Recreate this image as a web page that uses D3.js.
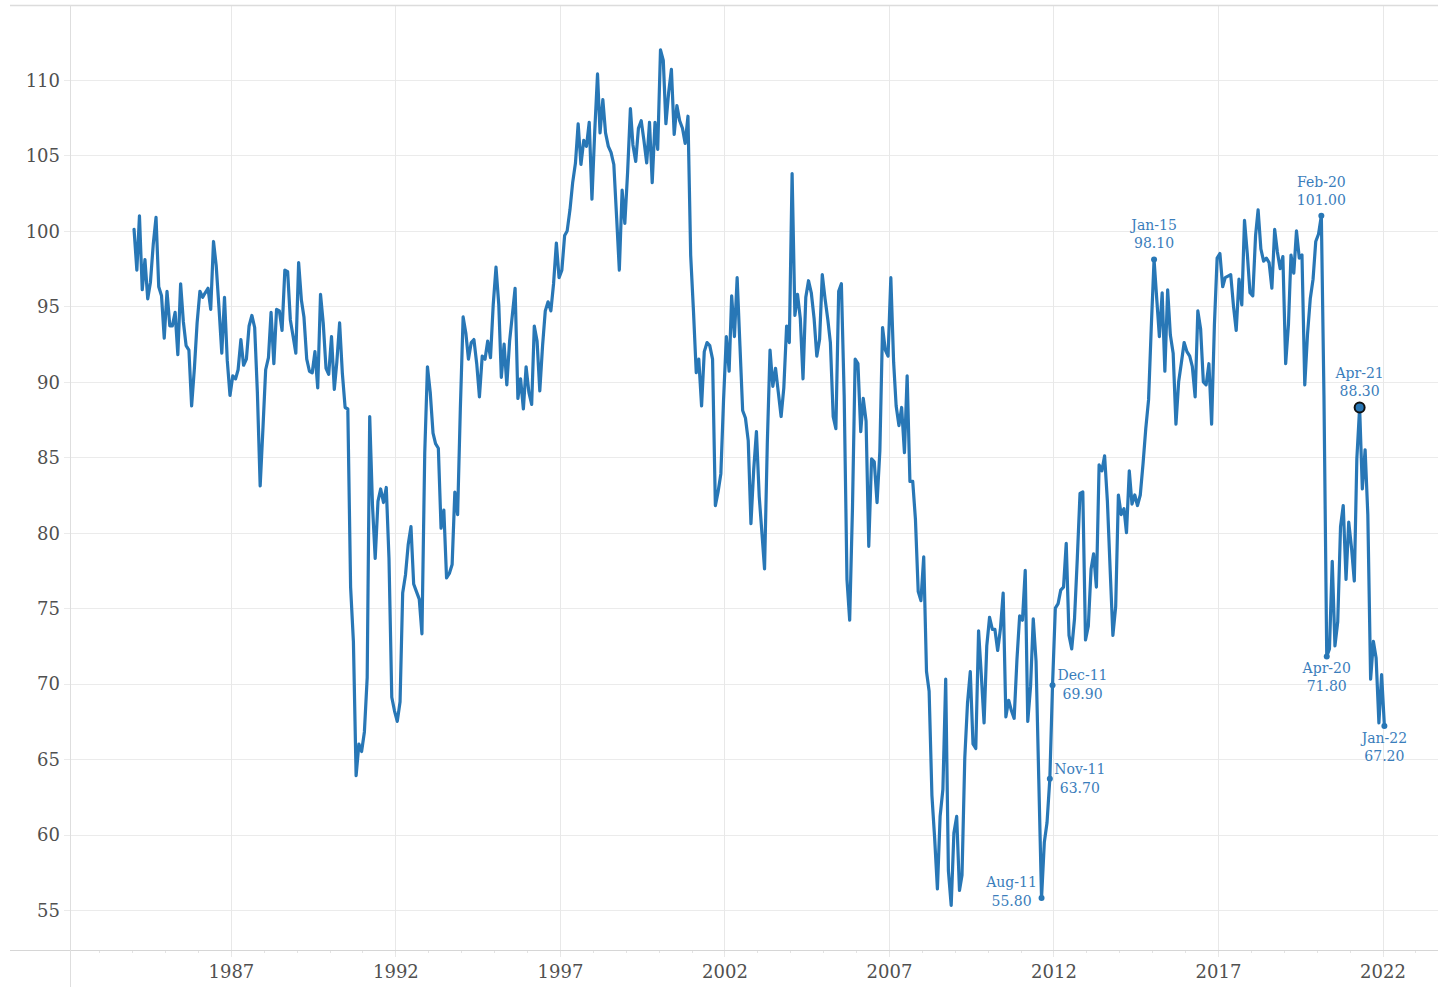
<!DOCTYPE html>
<html>
<head>
<meta charset="utf-8">
<script src="https://cdn.jsdelivr.net/npm/d3@7"></script>
<style>
  html, body { margin: 0; padding: 0; background: #fff; }
  svg { display: block; }
  .tick-label { font-family: "DejaVu Serif", "Liberation Serif", serif; font-size: 18px; fill: #505050; }
  .annot { font-family: "DejaVu Serif", "Liberation Serif", serif; font-size: 14px; fill: #3a7dbb; }
</style>
</head>
<body>
<svg id="chart" width="1438" height="987"></svg>
<script>
// ---- DATA ----
// Monthly index values, starting January 1984, ending January 2022
const startYear = 1984;
const values = [
  100.1, 97.4, 101.0, 96.1, 98.1, 95.5, 96.6, 99.1, 100.9, 96.3, 95.7, 92.9,
  96.0, 93.7, 93.7, 94.6, 91.8, 96.5, 94.0, 92.4, 92.1, 88.4, 90.9, 93.9,
  96.0, 95.6, 95.9, 96.2, 94.8, 99.3, 97.7, 94.9, 91.9, 95.6, 91.4, 89.1,
  90.4, 90.2, 90.8, 92.8, 91.1, 91.5, 93.7, 94.4, 93.6, 89.3, 83.1, 86.8,
  90.8, 91.6, 94.6, 91.2, 94.8, 94.7, 93.4, 97.4, 97.3, 94.1, 93.0, 91.9,
  97.9, 95.4, 94.3, 91.5, 90.7, 90.6, 92.0, 89.6, 95.8, 93.9, 90.9, 90.5,
  93.0, 89.5, 91.3, 93.9, 90.6, 88.3, 88.2, 76.4, 72.8, 63.9, 66.0, 65.5,
  66.8, 70.4, 87.7, 81.8, 78.3, 82.1, 82.9, 82.0, 83.0, 78.3, 69.1, 68.2,
  67.5, 68.8, 76.0, 77.2, 79.2, 80.4, 76.6, 76.1, 75.6, 73.3, 85.3, 91.0,
  89.3, 86.6, 85.9, 85.6, 80.3, 81.5, 77.0, 77.3, 77.9, 82.7, 81.2, 88.2,
  94.3, 93.2, 91.5, 92.6, 92.8, 91.2, 89.0, 91.7, 91.5, 92.7, 91.6, 95.1,
  97.6, 95.1, 90.3, 92.5, 89.8, 92.7, 94.4, 96.2, 88.9, 90.2, 88.2, 91.0,
  89.3, 88.5, 93.7, 92.7, 89.4, 92.4, 94.7, 95.3, 94.7, 96.5, 99.2, 96.9,
  97.4, 99.7, 100.0, 101.4, 103.2, 104.5, 107.1, 104.4, 106.0, 105.6, 107.2, 102.1,
  106.6, 110.4, 106.5, 108.7, 106.5, 105.6, 105.2, 104.4, 100.9, 97.4, 102.7, 100.5,
  103.9, 108.1, 105.7, 104.6, 106.8, 107.3, 106.0, 104.5, 107.2, 103.2, 107.2, 105.4,
  112.0, 111.3, 107.1, 109.2, 110.7, 106.4, 108.3, 107.3, 106.8, 105.8, 107.6, 98.4,
  94.7, 90.6, 91.5, 88.4, 92.0, 92.6, 92.4, 91.5, 81.8, 82.7, 83.9, 88.8,
  93.0, 90.7, 95.7, 93.0, 96.9, 92.4, 88.1, 87.6, 86.1, 80.6, 84.2, 86.7,
  82.4, 79.9, 77.6, 86.0, 92.1, 89.7, 90.9, 89.3, 87.7, 89.6, 93.7, 92.6,
  103.8, 94.4, 95.8, 94.2, 90.2, 95.6, 96.7, 95.9, 94.2, 91.7, 92.8, 97.1,
  95.5, 94.1, 92.6, 87.7, 86.9, 96.0, 96.5, 89.1, 76.9, 74.2, 81.6, 91.5,
  91.2, 86.7, 88.9, 87.4, 79.1, 84.9, 84.7, 82.0, 85.4, 93.6, 92.1, 91.7,
  96.9, 91.3, 88.4, 87.1, 88.3, 85.3, 90.4, 83.4, 83.4, 80.9, 76.1, 75.5,
  78.4, 70.8, 69.5, 62.6, 59.8, 56.4, 61.2, 63.0, 70.3, 57.6, 55.3, 60.1,
  61.2, 56.3, 57.3, 65.1, 68.7, 70.8, 66.0, 65.7, 73.5, 70.6, 67.4, 72.5,
  74.4, 73.6, 73.6, 72.2, 73.6, 76.0, 67.8, 68.9, 68.2, 67.7, 71.6, 74.5,
  74.2, 77.5, 67.5, 69.8, 74.3, 71.5, 63.7, 55.8, 59.5, 60.8, 63.7, 69.9,
  75.0, 75.3, 76.2, 76.4, 79.3, 73.2, 72.3, 74.3, 78.3, 82.6, 82.7, 72.9,
  73.8, 77.6, 78.6, 76.4, 84.5, 84.1, 85.1, 82.1, 77.5, 73.2, 75.1, 82.5,
  81.2, 81.6, 80.0, 84.1, 81.9, 82.5, 81.8, 82.5, 84.6, 86.9, 88.8, 93.6,
  98.1, 95.4, 93.0, 95.9, 90.7, 96.1, 93.1, 91.9, 87.2, 90.0, 91.3, 92.6,
  92.0, 91.7, 91.0, 89.0, 94.7, 93.5, 90.0, 89.8, 91.2, 87.2, 93.8, 98.2,
  98.5, 96.3, 96.9, 97.0, 97.1, 95.0, 93.4, 96.8, 95.1, 100.7, 98.5, 95.9,
  95.7, 99.7, 101.4, 98.8, 98.0, 98.2, 97.9, 96.2, 100.1, 98.6, 97.5, 98.3,
  91.2, 93.8, 98.4, 97.2, 100.0, 98.2, 98.4, 89.8, 93.2, 95.5, 96.8, 99.3,
  99.8, 101.0, 89.1, 71.8, 72.3, 78.1, 72.5, 74.1, 80.4, 81.8, 76.9, 80.7,
  79.0, 76.8, 84.9, 88.3, 82.9, 85.5, 81.2, 70.3, 72.8, 71.7, 67.4, 70.6,
  67.2
];

const xTickYears = [1987, 1992, 1997, 2002, 2007, 2012, 2017, 2022];
const yTickValues = [55, 60, 65, 70, 75, 80, 85, 90, 95, 100, 105, 110];

// Annotated months and where their labels sit
const annotMonths = ["Aug-11", "Nov-11", "Dec-11", "Jan-15", "Feb-20", "Apr-20", "Apr-21", "Jan-22"];
const annotPlacement = ["left", "right", "right", "above", "above", "below", "above", "below"];
const highlightMonth = "Apr-21";

// ---- CHART ----
const W = 1438, H = 987;
const plot = { left: 70, right: 1438, top: 5, bottom: 950 };
const lineColor = "#2877b6";

const data = values.map((v, i) => ({
  date: new Date(startYear, i, 22),
  value: v
}));
const fmtMonth = d3.timeFormat("%b-%y");
data.forEach(d => d.key = fmtMonth(d.date));

const x = d3.scaleTime()
  .domain([new Date(1982, 1, 10), new Date(2023, 8, 9)])
  .range([plot.left, plot.right]);
const y = d3.scaleLinear()
  .domain([52.35, 114.97])
  .range([plot.bottom, plot.top]);

const svg = d3.select("#chart");

// Gridlines
const grid = svg.append("g");
grid.selectAll(".hg").data(yTickValues).join("line")
  .attr("x1", plot.left - 6).attr("x2", plot.right)
  .attr("y1", d => Math.round(y(d)) + 0.5).attr("y2", d => Math.round(y(d)) + 0.5)
  .attr("stroke", "#ebebeb").attr("stroke-width", 1);
grid.selectAll(".vg").data(xTickYears).join("line")
  .attr("x1", d => Math.round(x(new Date(d, 0, 1))) + 0.5)
  .attr("x2", d => Math.round(x(new Date(d, 0, 1))) + 0.5)
  .attr("y1", plot.top).attr("y2", plot.bottom + 7)
  .attr("stroke", "#e8e8e8").attr("stroke-width", 1);

// minor yearly ticks on x axis
const allYears = d3.timeYear.range(x.domain()[0], x.domain()[1]);
grid.selectAll(".mt").data(allYears).join("line")
  .attr("x1", d => Math.round(x(d)) + 0.5).attr("x2", d => Math.round(x(d)) + 0.5)
  .attr("y1", plot.bottom).attr("y2", plot.bottom + 3)
  .attr("stroke", "#e4e4e4");

// Frame lines
svg.append("line").attr("x1", 10).attr("x2", W).attr("y1", plot.top + 0.5).attr("y2", plot.top + 0.5)
  .attr("stroke", "#dcdcdc").attr("stroke-width", 1.5);
svg.append("line").attr("x1", 10).attr("x2", W).attr("y1", plot.bottom + 0.5).attr("y2", plot.bottom + 0.5)
  .attr("stroke", "#d6d6d6").attr("stroke-width", 1.2);
svg.append("line").attr("x1", plot.left + 0.5).attr("x2", plot.left + 0.5).attr("y1", plot.top).attr("y2", H)
  .attr("stroke", "#dedede").attr("stroke-width", 1);

// Axes labels via d3 axes
const yAxis = d3.axisLeft(y).tickValues(yTickValues).tickSize(0).tickPadding(10);
const gy = svg.append("g").attr("transform", `translate(${plot.left},0)`).call(yAxis);
gy.select(".domain").remove();
gy.selectAll("text").attr("class", "tick-label").attr("dy", "0.35em").attr("x", -10);

const xAxis = d3.axisBottom(x).tickValues(xTickYears.map(yr => new Date(yr, 0, 1)))
  .tickFormat(d3.timeFormat("%Y")).tickSize(0).tickPadding(22);
const gx = svg.append("g").attr("transform", `translate(0,${plot.bottom})`).call(xAxis);
gx.select(".domain").remove();
gx.selectAll("text").attr("class", "tick-label").attr("dy", "0.35em");

// Line
const line = d3.line().x(d => x(d.date)).y(d => y(d.value));
svg.append("path").datum(data)
  .attr("d", line)
  .attr("fill", "none")
  .attr("stroke", lineColor)
  .attr("stroke-width", 3.2)
  .attr("stroke-linejoin", "round")
  .attr("stroke-linecap", "round");

// Annotations
const fmtVal = d3.format(".2f");
const annots = annotMonths.map((m, i) => {
  const d = data.find(p => p.key === m);
  return { ...d, place: annotPlacement[i], highlight: m === highlightMonth };
});

const ag = svg.append("g");
ag.selectAll("circle").data(annots).join("circle")
  .attr("cx", d => x(d.date)).attr("cy", d => y(d.value))
  .attr("r", d => d.highlight ? 5 : 3)
  .attr("fill", lineColor)
  .attr("stroke", d => d.highlight ? "#111" : "none")
  .attr("stroke-width", 2);

const offsets = {
  above: { dx: 0, dy1: -34, dy2: -16 },
  below: { dx: 0, dy1: 12, dy2: 30 },
  left: { dx: -30, dy1: -16, dy2: 3 },
  right: { dx: 30, dy1: -10, dy2: 9 }
};
annots.forEach(d => {
  const o = offsets[d.place];
  const cx = x(d.date) + o.dx, cy = y(d.value);
  ag.append("text").attr("class", "annot").attr("text-anchor", "middle")
    .attr("x", cx).attr("y", cy + o.dy1).attr("dy", "0.35em").text(d.key);
  ag.append("text").attr("class", "annot").attr("text-anchor", "middle")
    .attr("x", cx).attr("y", cy + o.dy2).attr("dy", "0.35em").text(fmtVal(d.value));
});
</script>
</body>
</html>
